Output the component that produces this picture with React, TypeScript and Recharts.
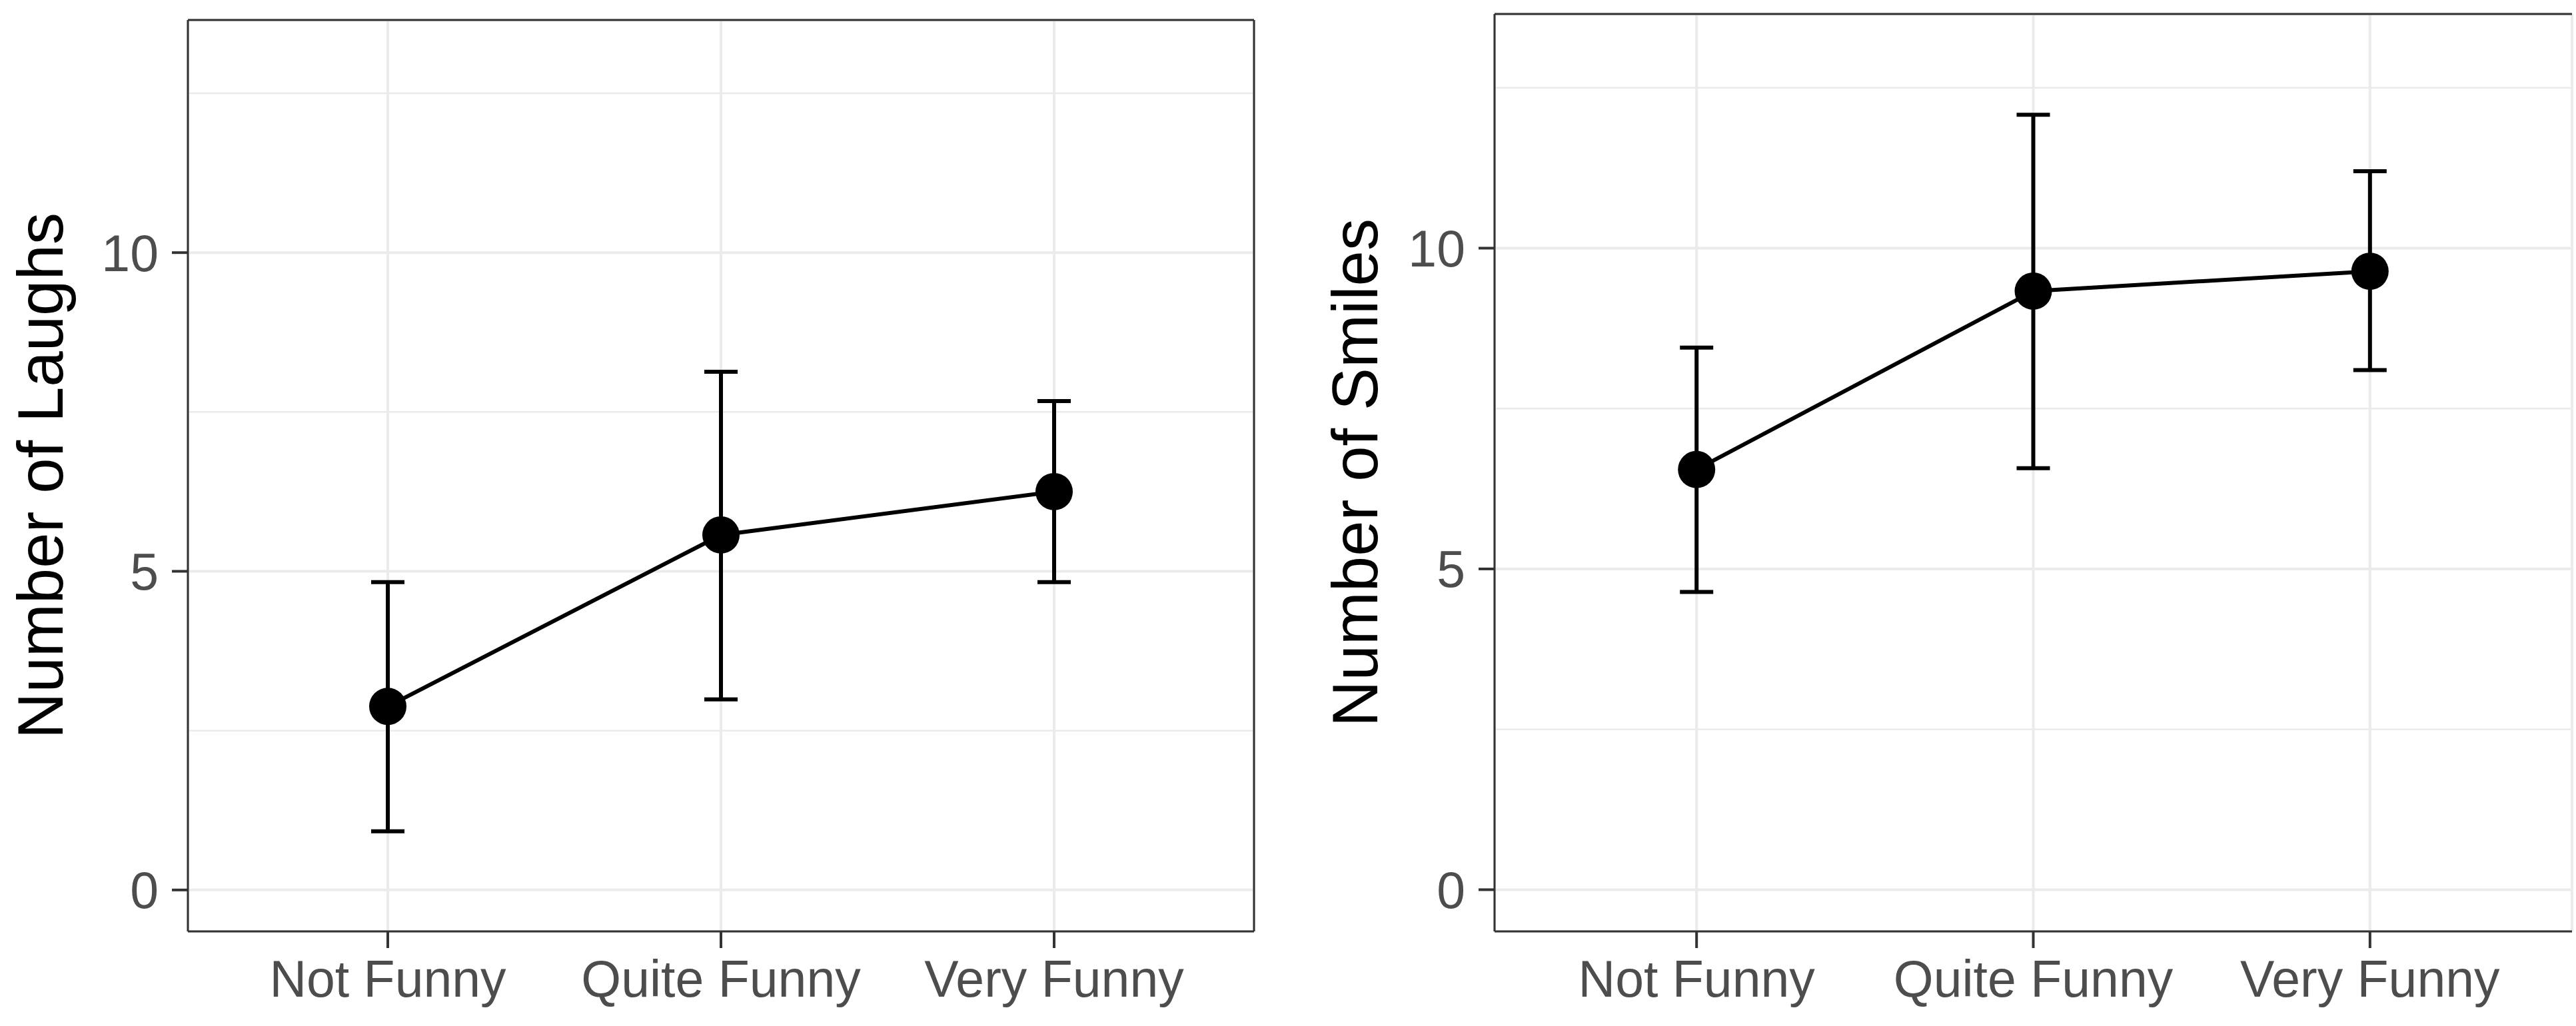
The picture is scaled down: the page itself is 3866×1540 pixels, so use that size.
import React from "react";
import {
  LineChart,
  Line,
  XAxis,
  YAxis,
  CartesianGrid,
  ErrorBar,
  ReferenceLine,
} from "recharts";

const categories = ["Not Funny", "Quite Funny", "Very Funny"];

const laughMeans = [2.88, 5.57, 6.25];
const laughLower = [0.92, 2.99, 4.83];
const laughUpper = [4.83, 8.13, 7.67];

const smileMeans = [6.55, 9.33, 9.64];
const smileLower = [4.64, 6.57, 8.1];
const smileUpper = [8.45, 12.08, 11.2];

const yTicks = [0, 5, 10];
const yMinor = [2.5, 7.5, 12.5];
const xDomain = [0.4, 3.6];
const yDomain = [-0.65, 13.65];

const FONT = "'Liberation Sans', Arial, Helvetica, sans-serif";
const BORDER = "#333333";
const GRID = "#ebebeb";

const buildRows = (means: number[], lower: number[], upper: number[]) =>
  means.map((m, i) => ({
    x: i + 1,
    mean: m,
    err: [m - lower[i], upper[i] - m],
  }));

interface PanelProps {
  rows: { x: number; mean: number; err: number[] }[];
  title: string;
  left: number;
  axisWidth: number;
  top: number;
  right: number;
  labelOffset: number;
  rightBorder: boolean;
}

const Panel: React.FC<PanelProps> = ({ rows, title, left, axisWidth, top, right, labelOffset, rightBorder }) => (
  <div style={{ position: "absolute", left, top: 0 }}>
    <LineChart
      width={1933}
      height={1540}
      data={rows}
      margin={{ top, right, left: 0, bottom: 0 }}
    >
      <CartesianGrid stroke={GRID} strokeWidth={4} />
      <CartesianGrid stroke={GRID} strokeWidth={2.5} vertical={false} horizontalValues={yMinor} />
      <XAxis
        dataKey="x"
        type="number"
        domain={xDomain}
        ticks={[1, 2, 3]}
        interval={0}
        tickFormatter={(v: number) => categories[v - 1]}
        height={142}
        tickSize={25}
        tickMargin={18}
        axisLine={{ stroke: BORDER, strokeWidth: 3 }}
        tickLine={{ stroke: BORDER, strokeWidth: 4 }}
        tick={{ fill: "#4d4d4d", fontSize: 77, fontFamily: FONT }}
        allowDataOverflow
      />
      <YAxis
        type="number"
        domain={yDomain}
        ticks={yTicks}
        interval={0}
        width={axisWidth}
        tickSize={24}
        tickMargin={20}
        axisLine={{ stroke: BORDER, strokeWidth: 3 }}
        tickLine={{ stroke: BORDER, strokeWidth: 4 }}
        tick={{ fill: "#4d4d4d", fontSize: 77, fontFamily: FONT }}
        allowDataOverflow
        label={{
          value: title,
          angle: -90,
          position: "insideLeft",
          offset: labelOffset,
          style: { textAnchor: "middle", fill: "#000", fontSize: 96, fontFamily: FONT },
        }}
      />
      <ReferenceLine y={yDomain[1]} stroke={BORDER} strokeWidth={3} ifOverflow="visible" />
      {rightBorder && <ReferenceLine x={xDomain[1]} stroke={BORDER} strokeWidth={3} ifOverflow="visible" />}
      <Line
        type="linear"
        dataKey="mean"
        stroke="#000"
        strokeWidth={6}
        dot={{ r: 28, fill: "#000", stroke: "#000", strokeWidth: 0 }}
        activeDot={false}
        isAnimationActive={false}
      >
        <ErrorBar dataKey="err" width={25} stroke="#000" strokeWidth={6} direction="y" isAnimationActive={false} />
      </Line>
    </LineChart>
  </div>
);

export default function App() {
  const laughRows = buildRows(laughMeans, laughLower, laughUpper);
  const smileRows = buildRows(smileMeans, smileLower, smileUpper);
  return (
    <div style={{ position: "absolute", left: 0, top: 0, width: 3866, height: 1540, background: "#fff", overflow: "hidden" }}>
      <Panel
        rows={laughRows}
        title="Number of Laughs"
        left={0}
        axisWidth={282}
        top={30}
        right={51}
        labelOffset={60}
        rightBorder
      />
      <Panel
        rows={smileRows}
        title="Number of Smiles"
        left={1933}
        axisWidth={310}
        top={21}
        right={6}
        labelOffset={100}
        rightBorder={false}
      />
    </div>
  );
}
